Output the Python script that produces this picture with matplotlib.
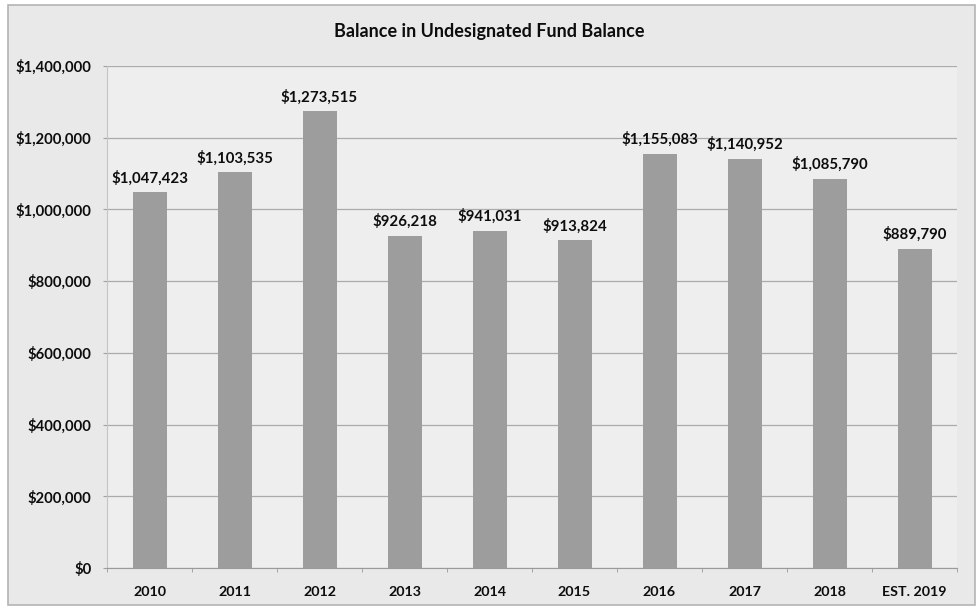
import matplotlib
matplotlib.use("Agg")
import matplotlib.pyplot as plt
from matplotlib.patches import Rectangle
from matplotlib.ticker import FuncFormatter, FixedLocator

# fund balance by year
years = ["2010", "2011", "2012", "2013", "2014", "2015", "2016", "2017", "2018", "EST. 2019"]
balances = [1047423, 1103535, 1273515, 926218, 941031, 913824, 1155083, 1140952, 1085790, 889790]

plt.rcParams["font.family"] = ["Lato", "DejaVu Sans"]
plt.rcParams["font.weight"] = "bold"

W, H = 979, 610
fig = plt.figure(figsize=(W / 100, H / 100), dpi=100)
fig.patch.set_facecolor("white")

# chart background panel with thin border
fig.patches.append(Rectangle((8 / W, 5 / H), (975 - 8) / W, (605 - 5) / H,
                             transform=fig.transFigure, facecolor="#e9e9e9",
                             edgecolor="#b4b4b4", linewidth=1.2, zorder=-5))

ax = fig.add_axes([107 / W, (H - 568) / H, (957 - 107) / W, (568 - 66) / H])
ax.set_zorder(2)
ax.set_facecolor("#eeeeee")

x = list(range(len(years)))
ax.bar(x, balances, width=0.4, color="#9d9d9d", zorder=3)

for xi, v in zip(x, balances):
    ax.annotate(f"${v:,.0f}", (xi, v), xytext=(0, 5), textcoords="offset points",
                ha="center", va="bottom", fontsize=10.8, fontweight="bold", color="#0d0d0d")

ax.set_xlim(-0.5, len(years) - 0.5)
ax.set_ylim(0, 1400000)
ax.yaxis.set_major_locator(FixedLocator(range(0, 1400001, 200000)))
ax.yaxis.set_major_formatter(FuncFormatter(lambda v, p: f"${v:,.0f}"))
ax.grid(axis="y", color="#ababab", linewidth=0.9, zorder=1)
ax.set_axisbelow(True)

ax.set_xticks(x)
ax.set_xticklabels(years)
ax.set_xticks([i + 0.5 for i in range(-1, len(years))], minor=True)
ax.tick_params(axis="x", which="major", length=0, pad=13, labelsize=10.3, colors="#0d0d0d")
ax.tick_params(axis="x", which="minor", length=3, color="#9a9a9a", direction="out")
ax.tick_params(axis="y", length=3, pad=8, labelsize=10.6, color="#a0a0a0", labelcolor="#0d0d0d")

for lbl in ax.get_xticklabels() + ax.get_yticklabels():
    lbl.set_fontweight("bold")

for side in ("top", "right"):
    ax.spines[side].set_visible(False)
ax.spines["left"].set_color("#c4c4c4")
ax.spines["bottom"].set_color("#9a9a9a")

fig.text(0.5, 1 - 32 / H, "Balance in Undesignated Fund Balance", ha="center", va="center",
         fontsize=13, fontweight="bold", color="#0d0d0d")

fig.savefig("out.png", dpi=100)
